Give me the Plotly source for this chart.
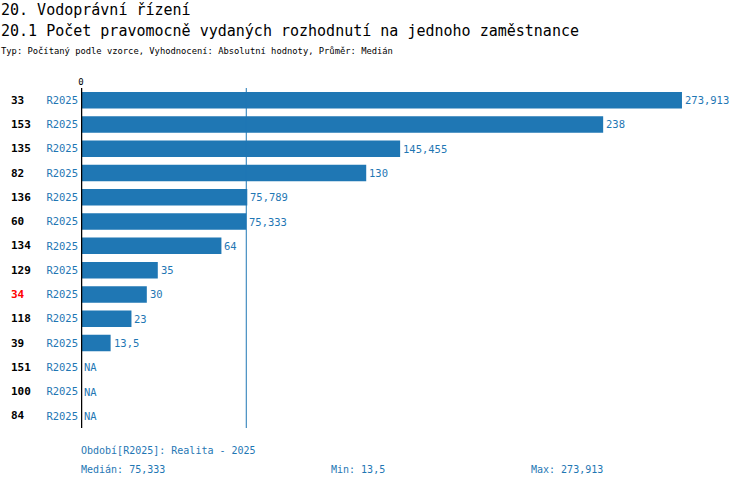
import plotly.graph_objects as go

# Data
unit_ids = ["33", "153", "135", "82", "136", "60", "134", "129", "34", "118", "39", "151", "100", "84"]
values = [273.913, 238, 145.455, 130, 75.789, 75.333, 64, 35, 30, 23, 13.5, None, None, None]
period_label = "R2025"
highlight_id = "34"
median_value = 75.333
min_value = 13.5
max_value = 273.913

BLUE = "#1f77b4"
FONT = "DejaVu Sans Mono"

W, H = 750, 488
L, T, R, B = 81, 88, 20, 60
PW, PH = W - L - R, H - T - B


def px_x(sx):
    return (sx - L) / PW


def px_y(sy):
    return (H - B - sy) / PH


def cz(v):
    # Czech decimal comma
    if v is None:
        return "NA"
    return f"{v:g}".replace(".", ",")


rows = list(range(len(unit_ids)))
bar_x = [v if v is not None else 0 for v in values]

fig = go.Figure()

fig.add_trace(
    go.Bar(
        x=bar_x,
        y=rows,
        orientation="h",
        marker=dict(color=BLUE, line=dict(width=0)),
        width=0.68,
        hoverinfo="skip",
    )
)

# median line
fig.add_shape(
    type="line", x0=median_value, x1=median_value, y0=0, y1=1,
    xref="x", yref="y domain", line=dict(color=BLUE, width=1),
)
# zero line
fig.add_shape(
    type="line", x0=0, x1=0, y0=0, y1=1,
    xref="x", yref="y domain", line=dict(color="black", width=2.5),
)

annotations = []
for r, uid, bx, v in zip(rows, unit_ids, bar_x, values):
    annotations.append(
        dict(
            x=px_x(9), y=r, xref="paper", yref="y", text=f"<b>{uid}</b>",
            showarrow=False, xanchor="left",
            font=dict(family=FONT, size=11, color="red" if uid == highlight_id else "black"),
        )
    )
    # value label at the bar end
    annotations.append(
        dict(
            x=bx, y=r, xref="x", yref="y", text=cz(v), showarrow=False,
            xanchor="left", xshift=1,
            font=dict(family=FONT, size=10.5, color=BLUE),
        )
    )

titles = [
    ("20. Vodoprávní řízení", 9, 15),
    ("20.1 Počet pravomocně vydaných rozhodnutí na jednoho zaměstnance", 30, 15),
    ("Typ: Počítaný podle vzorce, Vyhodnocení: Absolutní hodnoty, Průměr: Medián", 50, 8.8),
]
for txt, ypx, size in titles:
    annotations.append(
        dict(x=px_x(-1), y=px_y(ypx + 1), xref="paper", yref="paper",
             text=txt, showarrow=False, xanchor="left", yanchor="middle",
             font=dict(family=FONT, size=size, color="black"))
    )

footer = [
    (f"Období[{period_label}]: Realita - 2025", 79, 450),
    (f"Medián: {cz(median_value)}", 79, 469),
    (f"Min: {cz(min_value)}", 329, 469),
    (f"Max: {cz(max_value)}", 529, 469),
]
for txt, xpx, ypx in footer:
    annotations.append(
        dict(x=px_x(xpx), y=px_y(ypx), xref="paper", yref="paper",
             text=txt, showarrow=False, xanchor="left", yanchor="middle",
             font=dict(family=FONT, size=10, color=BLUE))
    )

fig.update_layout(
    width=W,
    height=H,
    margin=dict(l=L, r=R, t=T, b=B),
    plot_bgcolor="white",
    paper_bgcolor="white",
    showlegend=False,
    annotations=annotations,
    xaxis=dict(
        range=[0, PW / 2.194],
        side="top",
        tickvals=[0],
        ticktext=["0"],
        showgrid=False,
        zeroline=False,
        showline=False,
        ticks="",
        tickfont=dict(family=FONT, size=9, color="black"),
    ),
    yaxis=dict(
        range=[len(unit_ids) - 0.5, -0.5],
        tickvals=rows,
        ticktext=[period_label] * len(rows),
        showgrid=False,
        zeroline=False,
        showline=False,
        ticks="",
        ticklabelstandoff=2,
        tickfont=dict(family=FONT, size=10.5, color=BLUE),
    ),
)

# drop the browser's default body margin so the figure sits at the window corner
fig.write_html(
    "out.html",
    config={"displayModeBar": False},
    post_script="document.body.style.margin = '0';",
)
